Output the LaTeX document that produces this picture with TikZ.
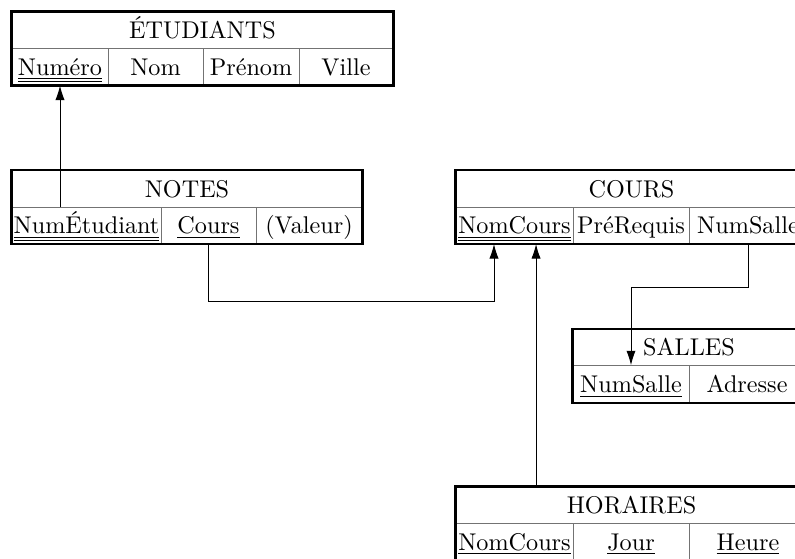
\documentclass[tikz,border=0pt]{standalone}
\usetikzlibrary{arrows.meta}
\newcommand\dund[1]{\leavevmode\vtop{\hbox{\underline{#1}}\kern0.5pt\hrule height0.4pt}}
\begin{document}
\begin{tikzpicture}[x=0.4132pt,y=-0.4132pt,
  cell/.style={rectangle,draw=black!55,line width=0.4pt,inner sep=0pt,
    minimum height=36.5*0.4132pt,text height=8.5pt,text depth=1.68pt},
  frame/.style={draw=black,line width=0.9pt},
  arr/.style={draw=black,line width=0.4pt,-{Latex[length=6pt,width=3.8pt]}}]
\useasboundingbox (0,0) rectangle (795,558);
\clip (0,0) rectangle (795,558);
% ETUDIANTS
\node[cell,minimum width=381*0.4132pt] (etu-title) at (202.5,30.25) {ÉTUDIANTS};
\node[cell,minimum width=96*0.4132pt] (etu-num) at (60,66.75) {\dund{Numéro}};
\node[cell,minimum width=95*0.4132pt] (etu-nom) at (155.5,66.75) {Nom};
\node[cell,minimum width=96*0.4132pt] (etu-pre) at (251,66.75) {Prénom};
\node[cell,minimum width=94*0.4132pt] (etu-vil) at (346,66.75) {Ville};
\draw[frame] (etu-title.north west) rectangle (etu-vil.south east);
% NOTES
\node[cell,minimum width=350*0.4132pt] (notes-title) at (187,188.75) {NOTES};
\node[cell,minimum width=149*0.4132pt] (notes-etu) at (86.5,225.25) {\dund{NumÉtudiant}};
\node[cell,minimum width=95*0.4132pt] (notes-cours) at (208.5,225.25) {\underline{Cours}};
\node[cell,minimum width=106*0.4132pt] (notes-val) at (309,225.25) {(Valeur)};
\draw[frame] (notes-title.north west) rectangle (notes-val.south east);
% COURS
\node[cell,minimum width=351*0.4132pt] (cours-title) at (631.5,188.75) {COURS};
\node[cell,minimum width=117*0.4132pt] (cours-nom) at (514.5,225.25) {\dund{NomCours}};
\node[cell,minimum width=116*0.4132pt] (cours-pre) at (631,225.25) {PréRequis};
\node[cell,minimum width=118*0.4132pt] (cours-ns) at (748,225.25) {NumSalle};
\draw[frame] (cours-title.north west) rectangle (cours-ns.south east);
% SALLES
\node[cell,minimum width=232*0.4132pt] (salles-title) at (689,347.5) {SALLES};
\node[cell,minimum width=116*0.4132pt] (salles-ns) at (631,384) {\underline{NumSalle}};
\node[cell,minimum width=116*0.4132pt] (salles-adr) at (747,384) {Adresse};
\draw[frame] (salles-title.north west) rectangle (salles-adr.south east);
% HORAIRES
\node[cell,minimum width=351*0.4132pt] (hor-title) at (631.5,505.25) {HORAIRES};
\node[cell,minimum width=117*0.4132pt] (hor-nom) at (514.5,541.75) {\underline{NomCours}};
\node[cell,minimum width=116*0.4132pt] (hor-jour) at (631,541.75) {\underline{Jour}};
\node[cell,minimum width=118*0.4132pt] (hor-heure) at (748,541.75) {\underline{Heure}};
\draw[frame] (hor-title.north west) rectangle (hor-heure.south east);
% connectors
\coordinate (c-notes) at ([xshift=-8.47pt]cours-nom.south);
\coordinate (c-hor) at ([xshift=8.9pt]cours-nom.south);
\draw[arr] (notes-title.south -| etu-num.south) -- (etu-num.south);
\draw[arr] (notes-cours.south) -- ++(0,57) -| (c-notes);
\draw[arr] (c-hor |- hor-title.north) -- (c-hor);
\draw[arr] (cours-ns.south) -- ++(0,43) -| (salles-ns.north);
\end{tikzpicture}
\end{document}
